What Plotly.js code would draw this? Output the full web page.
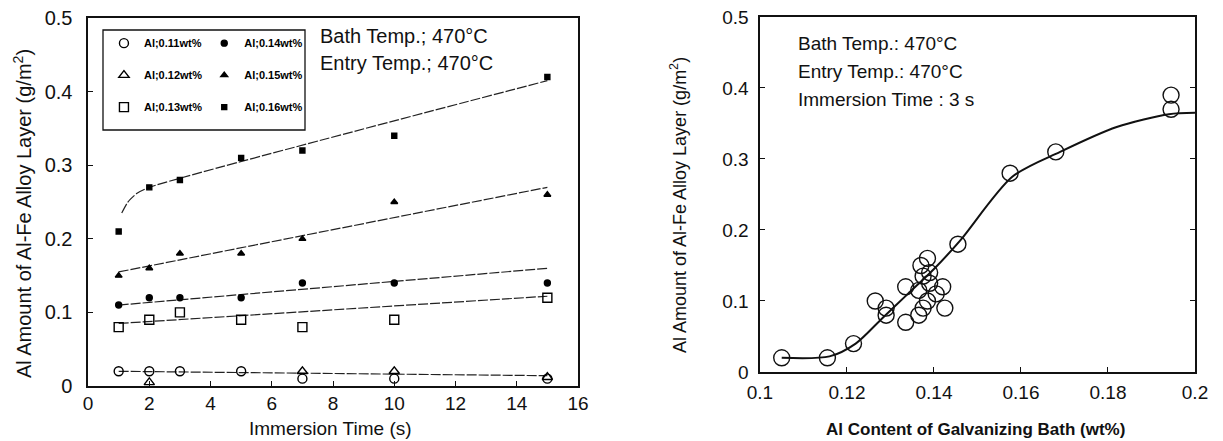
<!DOCTYPE html>
<html><head><meta charset="utf-8">
<script src="https://cdn.plot.ly/plotly-3.0.1.min.js"></script>
<style>body{margin:0;background:#fff}#c{width:1223px;height:441px}</style>
</head><body><div id="c"></div>
<script>
// Left chart: immersion time series
var timeS = [1, 2, 3, 5, 7, 10, 15];
var al011 = [0.02, 0.02, 0.02, 0.02, 0.01, 0.01, 0.01];
var al012T = [2, 7, 10, 15];
var al012 = [0.005, 0.02, 0.02, 0.012];
var al013 = [0.08, 0.09, 0.10, 0.09, 0.08, 0.09, 0.12];
var al014 = [0.11, 0.12, 0.12, 0.12, 0.14, 0.14, 0.14];
var al015 = [0.15, 0.16, 0.18, 0.18, 0.20, 0.25, 0.26];
var al016 = [0.21, 0.27, 0.28, 0.31, 0.32, 0.34, 0.42];
// fitted lines (endpoints)
var fitX = [1, 15];
var fit011 = [0.02, 0.014];
var fit013 = [0.085, 0.122];
var fit014 = [0.11, 0.16];
var fit015 = [0.155, 0.27];
var fit016X = [1.1, 1.3, 1.6, 2, 15];
var fit016 = [0.235, 0.25, 0.262, 0.27, 0.415];
var legendNames = ['Al;0.11wt%', 'Al;0.12wt%', 'Al;0.13wt%', 'Al;0.14wt%', 'Al;0.15wt%', 'Al;0.16wt%'];

// Right chart: Al content of bath vs Al amount (immersion 3 s)
var bathAl = [0.105, 0.1155, 0.1215, 0.1265, 0.129, 0.129, 0.1335, 0.1335, 0.1365, 0.1375, 0.1365, 0.137, 0.1385, 0.1375, 0.139, 0.139, 0.1405, 0.142, 0.1425, 0.1385, 0.1455, 0.1575, 0.168, 0.1945, 0.1945];
var alAmt = [0.02, 0.02, 0.04, 0.10, 0.09, 0.08, 0.07, 0.12, 0.08, 0.09, 0.115, 0.15, 0.16, 0.135, 0.14, 0.125, 0.11, 0.12, 0.09, 0.10, 0.18, 0.28, 0.31, 0.39, 0.37];
var curveX = [0.105, 0.116, 0.122, 0.128, 0.134, 0.14, 0.146, 0.158, 0.169, 0.182, 0.194, 0.2];
var curveY = [0.02, 0.022, 0.04, 0.075, 0.11, 0.145, 0.185, 0.275, 0.31, 0.345, 0.363, 0.365];

var FONT = 'Liberation Sans, Arial, sans-serif';
var lineStyle = {color: '#222', width: 1.2, dash: '10px,2px'};

function mk(x, y, name, sym, size, leg, grp) {
  return {x: x, y: y, mode: 'markers', type: 'scatter', name: name, xaxis: 'x', yaxis: 'y',
    legend: leg, legendgroup: grp,
    marker: {symbol: sym, size: size, color: '#000', line: {color: '#000', width: 1.4}}};
}
function fit(x, y, spline) {
  return {x: x, y: y, mode: 'lines', type: 'scatter', showlegend: false, hoverinfo: 'skip', xaxis: 'x', yaxis: 'y',
    line: Object.assign({}, lineStyle, spline ? {shape: 'spline', smoothing: 0.6} : {})};
}

var traces = [
  fit(fitX, fit011), fit(fitX, fit013), fit(fitX, fit014), fit(fitX, fit015), fit(fit016X, fit016, true),
  mk(timeS, al011, legendNames[0], 'circle-open', 9, 'legend', 'a'),
  mk(al012T, al012, legendNames[1], 'triangle-up-open', 9, 'legend', 'b'),
  mk(timeS, al013, legendNames[2], 'square-open', 9, 'legend', 'c'),
  mk(timeS, al014, legendNames[3], 'circle', 6, 'legend2', 'd'),
  mk(timeS, al015, legendNames[4], 'triangle-up', 6, 'legend2', 'e'),
  mk(timeS, al016, legendNames[5], 'square', 5, 'legend2', 'f'),
  {x: curveX, y: curveY, mode: 'lines', type: 'scatter', showlegend: false, hoverinfo: 'skip', xaxis: 'x2', yaxis: 'y2',
    line: {color: '#111', width: 2, shape: 'spline', smoothing: 0.8}},
  {x: bathAl, y: alAmt, mode: 'markers', type: 'scatter', showlegend: false, xaxis: 'x2', yaxis: 'y2',
    marker: {symbol: 'circle-open', size: 16, color: '#111', line: {color: '#111', width: 1.4}}}
];

var axBase = {showline: true, linecolor: '#111', linewidth: 1.6, mirror: true, showgrid: false, zeroline: false,
  ticks: 'inside', ticklen: 5, tickcolor: '#111', tickfont: {family: FONT, size: 20, color: '#111'}};

var legBase = {orientation: 'v', traceorder: 'grouped', tracegroupgap: 13, bgcolor: 'rgba(0,0,0,0)',
  font: {family: FONT, size: 11, color: '#000', weight: 'bold'}, itemwidth: 30, xanchor: 'left', yanchor: 'top'};

var layout = {
  width: 1223, height: 441, margin: {l: 0, r: 0, t: 0, b: 0},
  paper_bgcolor: '#fff', plot_bgcolor: '#fff', showlegend: true,
  font: {family: FONT, color: '#111'},
  xaxis: Object.assign({}, axBase, {domain: [0.072, 0.4726], range: [0, 16], dtick: 2, ticklabelstandoff: 0, tickfont: {family: FONT, size: 19, color: '#111'}}),
  yaxis: Object.assign({}, axBase, {domain: [0.1247, 0.959], range: [0, 0.5], dtick: 0.1, ticklabelstandoff: 10}),
  xaxis2: Object.assign({}, axBase, {domain: [0.6214, 0.9771], range: [0.1, 0.2], dtick: 0.02, anchor: 'y2', tickfont: {family: FONT, size: 19, color: '#111'}, ticklabelstandoff: 3}),
  yaxis2: Object.assign({}, axBase, {domain: [0.1565, 0.9615], range: [0, 0.5], dtick: 0.1, anchor: 'x2', mirror: 'ticks', tickfont: {family: FONT, size: 19, color: '#111'}, ticklabelstandoff: 6}),
  legend: Object.assign({}, legBase, {x: 0.085, y: 0.935}),
  legend2: Object.assign({}, legBase, {x: 0.167, y: 0.935}),
  shapes: [{type: 'rect', xref: 'paper', yref: 'paper', x0: 103 / 1223, x1: 305 / 1223, y0: 1 - 130 / 441, y1: 1 - 30 / 441,
    line: {color: '#111', width: 1.3}}],
  annotations: [
    {xref: 'paper', yref: 'paper', x: 318 / 1223, y: 1 - 36 / 441, xanchor: 'left', yanchor: 'middle', showarrow: false,
      text: 'Bath Temp.; 470°C', font: {family: FONT, size: 20, color: '#111'}},
    {xref: 'paper', yref: 'paper', x: 318 / 1223, y: 1 - 63 / 441, xanchor: 'left', yanchor: 'middle', showarrow: false,
      text: 'Entry Temp.; 470°C', font: {family: FONT, size: 20, color: '#111'}},
    {xref: 'paper', yref: 'paper', x: 796 / 1223, y: 1 - 44 / 441, xanchor: 'left', yanchor: 'middle', showarrow: false,
      text: 'Bath Temp.: 470°C', font: {family: FONT, size: 19, color: '#111'}},
    {xref: 'paper', yref: 'paper', x: 796 / 1223, y: 1 - 72 / 441, xanchor: 'left', yanchor: 'middle', showarrow: false,
      text: 'Entry Temp.: 470°C', font: {family: FONT, size: 19, color: '#111'}},
    {xref: 'paper', yref: 'paper', x: 796 / 1223, y: 1 - 100 / 441, xanchor: 'left', yanchor: 'middle', showarrow: false,
      text: 'Immersion Time : 3 s', font: {family: FONT, size: 19, color: '#111'}},
    {xref: 'paper', yref: 'paper', x: 22 / 1223, y: 1 - 214 / 441, xanchor: 'center', yanchor: 'middle', textangle: -90, showarrow: false,
      text: 'Al Amount of Al-Fe Alloy Layer (g/m<sup>2</sup>)', font: {family: FONT, size: 20, color: '#111'}},
    {xref: 'paper', yref: 'paper', x: 330 / 1223, y: 0, xanchor: 'center', yanchor: 'bottom', showarrow: false,
      text: 'Immersion Time (s)', font: {family: FONT, size: 19, color: '#111'}},
    {xref: 'paper', yref: 'paper', x: 678 / 1223, y: 1 - 205 / 441, xanchor: 'center', yanchor: 'middle', textangle: -90, showarrow: false,
      text: 'Al Amount of Al-Fe Alloy Layer (g/m<sup>2</sup>)', font: {family: FONT, size: 18, color: '#111'}},
    {xref: 'paper', yref: 'paper', x: 975 / 1223, y: 0, xanchor: 'center', yanchor: 'bottom', showarrow: false,
      text: 'Al Content of Galvanizing Bath (wt%)', font: {family: FONT, size: 17, color: '#111', weight: 'bold'}}
  ]
};

Plotly.newPlot('c', traces, layout, {displayModeBar: false, staticPlot: true});
</script></body></html>
